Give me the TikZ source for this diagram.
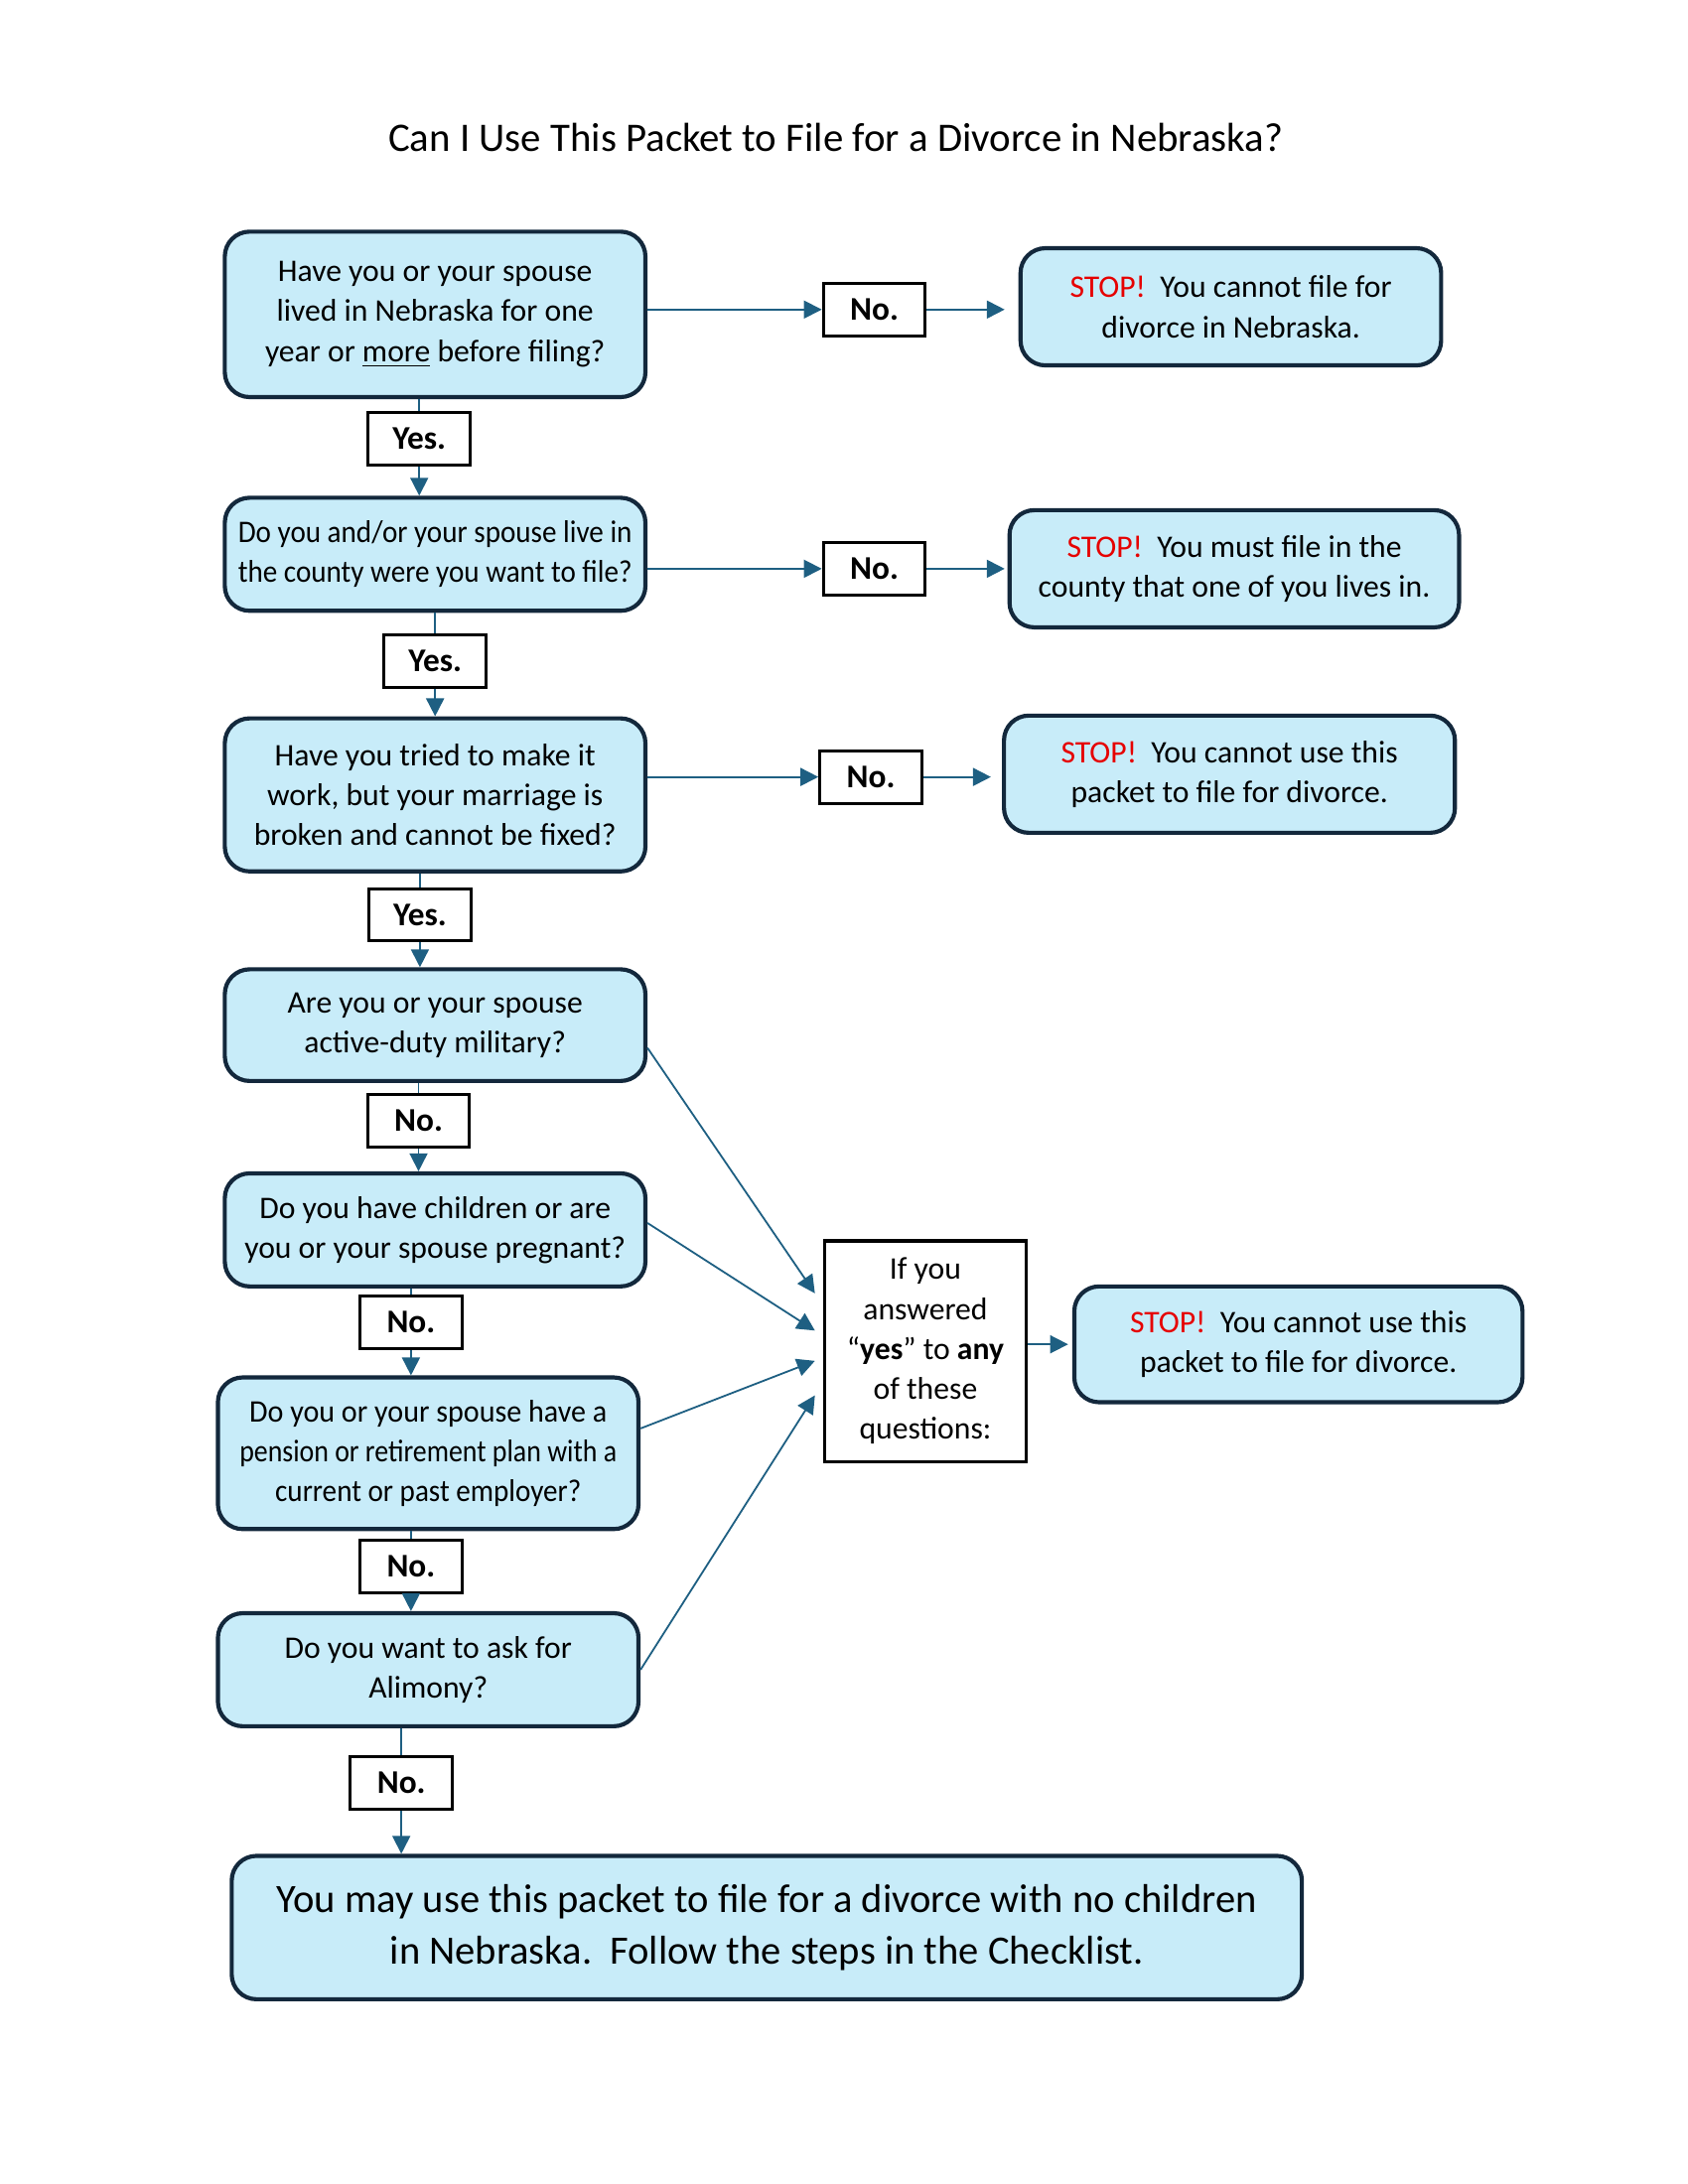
\documentclass[tikz,border=0pt]{standalone}
\usepackage{fontspec}
\usepackage{graphicx}
\setmainfont{Carlito}
\usetikzlibrary{arrows.meta,calc}
\definecolor{qfill}{RGB}{200,236,249}
\definecolor{qborder}{RGB}{19,40,60}
\definecolor{arrowc}{RGB}{30,95,130}
\definecolor{stopred}{RGB}{230,0,0}
\newcommand{\stopword}{\textcolor{stopred}{STOP!}\ \ }
\newcommand{\squeeze}[2]{\scalebox{#1}[1]{#2}}
\tikzset{
  qbox/.style={draw=qborder, fill=qfill, line width=1.5pt, rounded corners=9pt,
    align=center, inner sep=0pt, font=\fontsize{11.4}{14.5}\selectfont},
  lbl/.style={draw=black, fill=white, line width=1.1pt, inner sep=0pt,
    minimum width=37pt, minimum height=19pt, font=\fontsize{12}{13}\selectfont\bfseries},
  midbox/.style={draw=black, fill=white, line width=1.1pt, inner sep=0pt, align=center,
    font=\fontsize{11.4}{14.5}\selectfont},
  conn/.style={draw=arrowc, line width=0.65pt},
  arr/.style={conn, -{Triangle[length=6.5pt,width=6.5pt]}}
}
\begin{document}
\begin{tikzpicture}[x=0.5pt,y=-0.5pt]
\useasboundingbox (0,0) rectangle (1224,1584);
% title
\node[font=\fontsize{14.7}{17}\selectfont] (title) at (606,100) {Can I Use This Packet to File for a Divorce in Nebraska?};
% question boxes
\node[qbox, minimum width=152.5pt, minimum height=60pt] (b1) at (315.5,228)
  {Have you or your spouse\\lived in Nebraska for one\\year or \underline{more} before filing?};
\node[qbox, minimum width=152.5pt, minimum height=41pt] (b2) at (315.5,402)
  {\squeeze{0.92}{Do you and/or your spouse live in}\\\squeeze{0.92}{the county were you want to file?}};
\node[qbox, minimum width=152.5pt, minimum height=55.5pt] (b3) at (315.5,576.5)
  {Have you tried to make it\\work, but your marriage is\\broken and cannot be fixed?};
\node[qbox, minimum width=152.5pt, minimum height=40.5pt] (b4) at (315.5,743.5)
  {Are you or your spouse\\active-duty military?};
\node[qbox, minimum width=152.5pt, minimum height=41pt] (b5) at (315.5,892)
  {Do you have children or are\\you or your spouse pregnant?};
\node[qbox, minimum width=152.5pt, minimum height=55pt] (b6) at (310.5,1054)
  {\squeeze{0.95}{Do you or your spouse have a}\\\squeeze{0.88}{pension or retirement plan with a}\\\squeeze{0.92}{current or past employer?}};
\node[qbox, minimum width=152.5pt, minimum height=41pt] (b7) at (310.5,1211)
  {Do you want to ask for\\Alimony?};
\node[qbox, minimum width=388pt, minimum height=52pt, font=\fontsize{14.6}{18.5}\selectfont] (fin) at (556,1398)
  {You may use this packet to file for a divorce with no children\\in Nebraska.\ \ Follow the steps in the Checklist.};
% stop boxes
\node[qbox, minimum width=152.5pt, minimum height=42.5pt] (s1) at (892.5,222.5)
  {\stopword You cannot file for\\divorce in Nebraska.};
\node[qbox, minimum width=163pt, minimum height=42.5pt] (s2) at (895,412.5)
  {\stopword You must file in the\\county that one of you lives in.};
\node[qbox, minimum width=163.5pt, minimum height=42.5pt] (s3) at (891.5,561.5)
  {\stopword You cannot use this\\packet to file for divorce.};
\node[qbox, minimum width=162.5pt, minimum height=42pt] (s4) at (941.5,975)
  {\stopword You cannot use this\\packet to file for divorce.};
% middle box
\node[midbox, minimum width=73pt, minimum height=80pt] (mid) at (671,980)
  {If you\\answered\\\char"201C\textbf{yes}\char"201D{} to \textbf{any}\\of these\\questions:};
% labels
\node[lbl] (n1) at (634,224.5) {No.};
\node[lbl] (n2) at (634,412.5) {No.};
\node[lbl] (n3) at (631.5,563.5) {No.};
\node[lbl] (y1) at (304,318) {Yes.};
\node[lbl] (y2) at (315.5,479.5) {Yes.};
\node[lbl] (y3) at (304.5,663.5) {Yes.};
\node[lbl] (n4) at (303.5,813) {No.};
\node[lbl] (n5) at (298,959) {No.};
\node[lbl] (n6) at (298,1136) {No.};
\node[lbl] (n7) at (291,1293) {No.};
% horizontal connectors
\draw[arr] (b1.east |- n1) -- (n1.west);
\draw[arr, shorten >=5pt] (n1.east) -- (n1.east -| s1.west);
\draw[arr] (b2.east |- n2) -- (n2.west);
\draw[arr, shorten >=1pt] (n2.east) -- (n2.east -| s2.west);
\draw[arr] (b3.east |- n3) -- (n3.west);
\draw[arr, shorten >=4pt] (n3.east) -- (n3.east -| s3.west);
% vertical connectors
\draw[conn] (b1.south -| y1.north) -- (y1.north);
\draw[arr] (y1.south) -- (y1.south |- b2.north);
\draw[conn] (b2.south -| y2.north) -- (y2.north);
\draw[arr] (y2.south) -- (y2.south |- b3.north);
\draw[conn] (b3.south -| y3.north) -- (y3.north);
\draw[arr] (y3.south) -- (y3.south |- b4.north);
\draw[conn] (b4.south -| n4.north) -- (n4.north);
\draw[arr] (n4.south) -- (n4.south |- b5.north);
\draw[conn] (b5.south -| n5.north) -- (n5.north);
\draw[arr] (n5.south) -- (n5.south |- b6.north);
\draw[conn] (b6.south -| n6.north) -- (n6.north);
\draw[arr] (n6.south) -- (n6.south |- b7.north);
\draw[conn] (b7.south -| n7.north) -- (n7.north);
\draw[arr] (n7.south) -- (n7.south |- fin.north);
% diagonal connectors into middle box
\draw[arr] ([yshift=-8.25pt]b4.east) -- ([xshift=-3pt,yshift=21pt]mid.west);
\draw[arr] ([yshift=2.5pt]b5.east) -- ([xshift=-3pt,yshift=7.5pt]mid.west);
\draw[arr] ([yshift=9pt]b6.east) -- ([xshift=-3pt,yshift=-3.5pt]mid.west);
\draw[arr] (b7.east) -- ([xshift=-3pt,yshift=-16pt]mid.west);
\draw[arr, shorten >=1.5pt] (mid.east |- s4.west) -- (s4.west);
\end{tikzpicture}
\end{document}
